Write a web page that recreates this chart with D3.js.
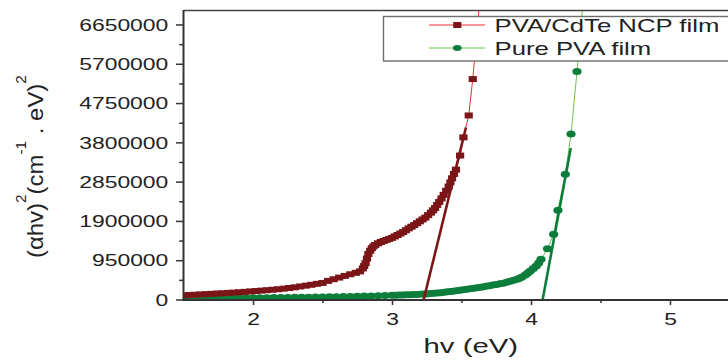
<!DOCTYPE html>
<html>
<head>
<meta charset="utf-8">
<script src="https://cdn.jsdelivr.net/npm/d3@7"></script>
<style>
  html, body { margin: 0; padding: 0; background: #fff; }
  svg { display: block; font-family: "Liberation Sans", Arial, sans-serif; }
</style>
</head>
<body>
<svg id="chart" width="728" height="360"></svg>
<script>
// PVA/CdTe nanocomposite film: photon energy (eV) and (αhν)² values
const compositeHv = [1.50,1.54,1.58,1.62,1.66,1.70,1.74,1.78,1.82,1.86,1.90,1.94,1.98,2.02,2.06,2.10,2.14,2.18,2.22,2.26,
  2.30,2.34,2.38,2.42,2.46,2.50,2.54,2.58,2.62,2.66,2.70,2.74,2.77,2.79,2.80,2.81,2.82,2.83,2.843,2.855,2.867,2.88,2.90,2.92,2.94,2.96,2.98,
  3.00,3.02,3.04,3.06,3.08,3.10,3.12,3.14,3.16,3.18,3.20,3.22,3.24,3.26,3.28,3.295,3.31,3.325,3.34,3.356,3.372,3.39,3.408,3.42,3.432,3.446,3.46,
  3.49,3.514,3.552,3.581,3.615,3.65];
const compositeVal = [100000,108000,115000,122000,129000,137000,144000,151000,159000,167000,175000,185000,195000,205000,215000,225000,236000,248000,262000,278000,
  295000,315000,335000,356000,378000,400000,450000,490000,530000,570000,610000,645000,680000,750000,810000,880000,990000,1100000,1180000,1240000,1285000,1320000,1360000,1390000,1415000,1440000,1465000,
  1490000,1525000,1560000,1595000,1630000,1675000,1720000,1760000,1800000,1845000,1890000,1935000,1980000,2040000,2100000,2155000,2210000,2285000,2360000,2445000,2530000,2630000,2730000,2830000,2930000,3035000,3140000,
  3480000,3920000,4450000,5330000,6600000,8000000];

// Pure PVA film
const pureHv = [1.50,1.55,1.60,1.65,1.70,1.75,1.80,1.85,1.90,1.95,2.00,2.05,2.10,2.15,2.20,2.25,2.30,2.35,2.40,2.45,
  2.50,2.55,2.60,2.65,2.70,2.75,2.80,2.85,2.90,2.95,3.00,3.025,3.05,3.075,3.10,3.125,3.15,3.175,3.20,3.225,3.25,3.275,
  3.30,3.325,3.35,3.375,3.40,3.425,3.45,3.475,3.50,3.525,3.55,3.575,3.60,3.625,3.65,3.675,3.70,3.725,3.75,3.775,
  3.80,3.825,3.85,3.875,3.90,3.918,3.935,3.959,3.977,3.995,4.017,4.038,4.055,4.072,4.119,4.163,4.194,4.247,4.288,4.331,4.362,4.40];
const pureVal = [30000,31000,32000,33000,34000,35000,36000,37000,38000,40000,41000,43000,44000,46000,48000,50000,52000,54000,57000,59000,
  62000,65000,68000,71000,75000,78000,82000,86000,90000,95000,100000,103000,106000,109000,112000,115000,119000,123000,127000,131000,136000,143000,
  150000,157000,165000,175000,185000,195000,205000,216000,228000,240000,252000,264000,277000,291000,305000,320000,335000,348000,362000,378000,
  395000,416000,440000,464000,490000,515000,545000,592000,640000,690000,750000,810000,885000,972000,1230000,1580000,2160000,3030000,4000000,5510000,6700000,8200000];

// Linear extrapolations of the absorption edges (band gap intercepts)
const compositeFitHv = [3.228, 3.532];
const compositeFitVal = [0, 4160000];
const pureFitHv = [4.084, 4.286];
const pureFitVal = [0, 3660000];

// Axis ticks
const xMajor = [2, 3, 4, 5];
const xMinor = [2.5, 3.5, 4.5];
const yMajor = [0, 950000, 1900000, 2850000, 3800000, 4750000, 5700000, 6650000];
const yMinor = [475000, 1425000, 2375000, 3325000, 4275000, 5225000, 6175000];

const seriesNames = ["PVA/CdTe NCP film", "Pure PVA film"];

const darkRed = "#7b1518", lightRed = "#ee2f35";
const darkGreen = "#0d7d3b", lightGreen = "#6cc64c";
const axisColor = "#333", textColor = "#222";

const svg = d3.select("#chart");
const x = d3.scaleLinear().domain([1.5, 5.5]).range([183.5, 739.5]);
const y = d3.scaleLinear().domain([0, 7000000]).range([299.5, 10]);

// widen glyphs horizontally to the chart's wide lettering
function stretch(sel, k) {
  sel.each(function () {
    const w = this.getComputedTextLength();
    d3.select(this).attr("textLength", w * k).attr("lengthAdjust", "spacingAndGlyphs");
  });
}

svg.append("defs").append("clipPath").attr("id", "plotArea")
  .append("rect")
  .attr("x", x(1.5)).attr("y", y(7000000))
  .attr("width", x(5.5) - x(1.5)).attr("height", y(0) - y(7000000));

const plot = svg.append("g").attr("clip-path", "url(#plotArea)");

const composite = compositeHv.map((h, i) => ({ h, v: compositeVal[i] }));
const pure = pureHv.map((h, i) => ({ h, v: pureVal[i] }));
const line = d3.line().x(d => x(d.h)).y(d => y(d.v));

// thin connecting lines
plot.append("path").datum(composite).attr("d", line)
  .attr("fill", "none").attr("stroke", lightRed).attr("stroke-width", 1);
plot.append("path").datum(pure).attr("d", line)
  .attr("fill", "none").attr("stroke", lightGreen).attr("stroke-width", 1);

// markers
plot.append("g").selectAll("ellipse").data(pure).join("ellipse")
  .attr("cx", d => x(d.h)).attr("cy", d => y(d.v))
  .attr("rx", 4.6).attr("ry", 3.5).attr("fill", darkGreen);
plot.append("g").selectAll("rect").data(composite).join("rect")
  .attr("x", d => x(d.h) - 4.1).attr("y", d => y(d.v) - 3)
  .attr("width", 8.2).attr("height", 6).attr("fill", darkRed);

// fitted lines
const fitLine = d3.line().x(d => x(d[0])).y(d => y(d[1]));
plot.append("path").datum(compositeFitHv.map((h, i) => [h, compositeFitVal[i]]))
  .attr("d", fitLine).attr("stroke", darkRed).attr("stroke-width", 2.6).attr("fill", "none");
plot.append("path").datum(pureFitHv.map((h, i) => [h, pureFitVal[i]]))
  .attr("d", fitLine).attr("stroke", darkGreen).attr("stroke-width", 2.6).attr("fill", "none");

// legend
const legend = svg.append("g");
legend.append("rect").attr("x", 383.5).attr("y", 16.5).attr("width", 360).attr("height", 44.5)
  .attr("fill", "#fff").attr("stroke", "#6e6e6e").attr("stroke-width", 1.4);
const rows = [
  { name: seriesNames[0], cy: 25, light: lightRed, dark: darkRed, shape: "square" },
  { name: seriesNames[1], cy: 48, light: lightGreen, dark: darkGreen, shape: "circle" }
];
rows.forEach(r => {
  legend.append("line").attr("x1", 429).attr("x2", 485).attr("y1", r.cy).attr("y2", r.cy)
    .attr("stroke", r.light).attr("stroke-width", 1);
  if (r.shape === "square") {
    legend.append("rect").attr("x", 457.3 - 4.1).attr("y", r.cy - 3).attr("width", 8.2).attr("height", 6).attr("fill", r.dark);
  } else {
    legend.append("ellipse").attr("cx", 457.3).attr("cy", r.cy).attr("rx", 4.4).attr("ry", 3).attr("fill", r.dark);
  }
  const t = legend.append("text").attr("x", 494.5).attr("y", r.cy + 7.3)
    .attr("font-size", 18.5).attr("fill", textColor).text(r.name);
  stretch(t, 1.39);
});

// axes
const yAxis = svg.append("g").attr("transform", `translate(${x(1.5)},0)`)
  .call(d3.axisLeft(y).tickValues(yMajor).tickSize(7.5).tickPadding(7.7).tickFormat(d3.format("d")));
const yAxisMinor = svg.append("g").attr("transform", `translate(${x(1.5)},0)`)
  .call(d3.axisLeft(y).tickValues(yMinor).tickSize(4.3).tickFormat(""));
const xAxis = svg.append("g").attr("transform", `translate(0,${y(0) + 0.5})`)
  .call(d3.axisBottom(x).tickValues(xMajor).tickSize(5).tickPadding(8.3).tickFormat(d3.format("d")));
const xAxisMinor = svg.append("g").attr("transform", `translate(0,${y(0) + 0.5})`)
  .call(d3.axisBottom(x).tickValues(xMinor).tickSize(3).tickFormat(""));

[yAxis, yAxisMinor, xAxis, xAxisMinor].forEach(a => {
  a.select(".domain").remove();
  a.selectAll("line").attr("stroke", axisColor).attr("stroke-width", 1.5);
  a.selectAll("text").attr("font-size", 16).attr("fill", textColor)
    .attr("font-family", "'Liberation Sans', Arial, sans-serif");
});
yAxis.selectAll("text").attr("dy", "0.36em");
stretch(yAxis.selectAll("text"), 1.43);
stretch(xAxis.selectAll("text"), 1.43);

// frame
svg.append("line").attr("x1", x(1.5)).attr("x2", 728).attr("y1", 10.5).attr("y2", 10.5)
  .attr("stroke", "#444").attr("stroke-width", 1.5);
svg.append("line").attr("x1", x(1.5)).attr("x2", x(1.5)).attr("y1", 10).attr("y2", y(0) + 1.5)
  .attr("stroke", axisColor).attr("stroke-width", 2);
svg.append("line").attr("x1", x(1.5) - 1).attr("x2", 728).attr("y1", y(0) + 0.5).attr("y2", y(0) + 0.5)
  .attr("stroke", axisColor).attr("stroke-width", 2);

// axis titles
const xt = svg.append("text").attr("x", 470.8).attr("y", 353).attr("text-anchor", "middle")
  .attr("font-size", 20.5).attr("fill", textColor).text("hv (eV)");
stretch(xt, 1.43);

const yt = svg.append("text")
  .attr("text-anchor", "middle").attr("font-size", 22).attr("fill", textColor);
yt.append("tspan").text("(αhv)");
yt.append("tspan").attr("font-size", 14).attr("dy", -17).text("2");
yt.append("tspan").attr("dy", 17).text("(cm");
yt.append("tspan").attr("font-size", 14).attr("dy", -17).text("-1");
yt.append("tspan").attr("dy", 17).text(" . eV)");
yt.append("tspan").attr("font-size", 14).attr("dy", -17).text("2");
// fit the title's run length to the axis span
const ytLen = yt.node().getComputedTextLength();
yt.attr("transform", `translate(43.3,166.6) rotate(-90) scale(${183 / ytLen},1)`);
</script>
</body>
</html>
